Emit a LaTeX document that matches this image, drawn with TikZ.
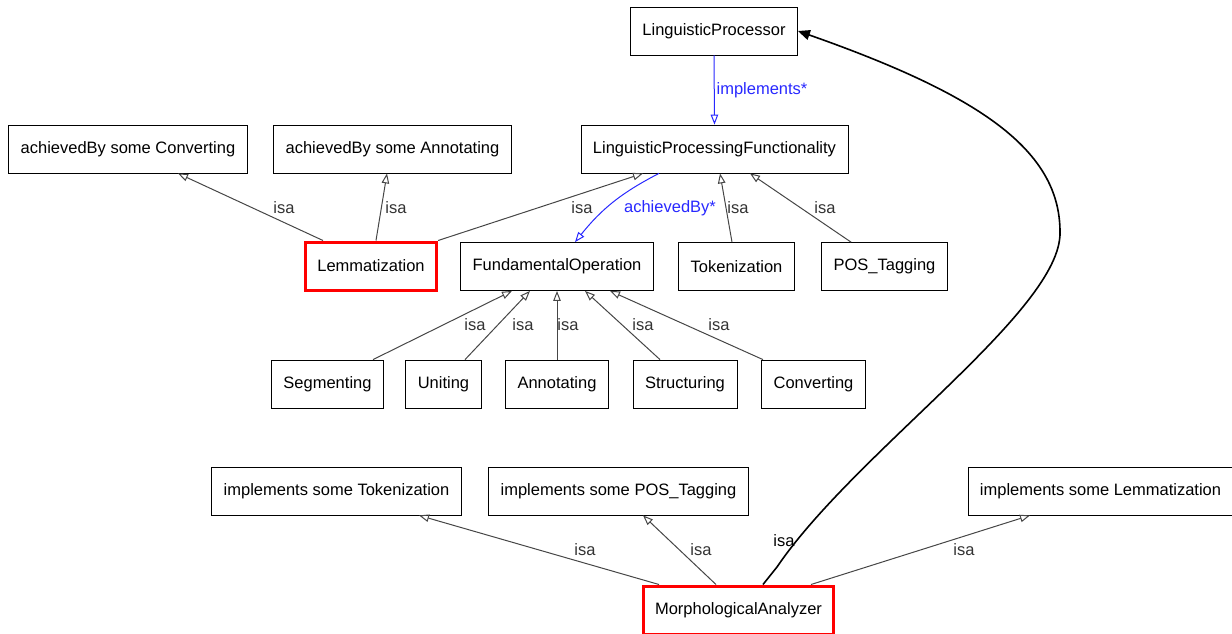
\documentclass[tikz,border=0pt]{standalone}
\usepackage{fontspec}
\setmainfont{Liberation Sans}
\usetikzlibrary{arrows.meta}
\definecolor{isagray}{RGB}{70,70,70}
\definecolor{relblue}{RGB}{40,40,255}
\begin{document}
\begin{tikzpicture}[x=1pt, y=-1pt,
  every node/.style={font=\fontsize{16.5}{18}\selectfont},
  cls/.style={draw, line width=0.8pt, minimum height=48pt, inner xsep=12pt},
  hit/.style={cls, draw=red, line width=3pt},
  isa/.style={draw=isagray, line width=1pt, -{Triangle[open, length=10pt, width=7.5pt]}},
  rel/.style={draw=relblue, line width=1pt, -{Triangle[open, length=10pt, width=7.5pt]}},
  lbl/.style={text=black!80, inner sep=1pt},
  rlbl/.style={text=relblue, inner sep=1pt}]
\useasboundingbox (0,0) rectangle (1232,633);

% classes
\node[cls] (LP) at (714, 31) {LinguisticProcessor};
\node[cls] (ConvSome) at (128, 149) {achievedBy some Converting};
\node[cls] (AnnSome) at (392.5, 149) {achievedBy some Annotating};
\node[cls] (LPF) at (714.5, 149) {LinguisticProcessingFunctionality};
\node[hit] (Lem) at (371, 266) {Lemmatization};
\node[cls] (FO) at (557, 266.5) {FundamentalOperation};
\node[cls] (Tok) at (736.5, 266.5) {Tokenization};
\node[cls] (POS) at (884.5, 266.5) {POS\_Tagging};
\node[cls] (Seg) at (327.5, 384) {Segmenting};
\node[cls] (Uni) at (443.5, 384) {Uniting};
\node[cls] (Ann) at (557, 384) {Annotating};
\node[cls] (Str) at (685, 384) {Structuring};
\node[cls] (Cnv) at (813.5, 384) {Converting};
\node[cls] (ImpTok) at (336.5, 491) {implements some Tokenization};
\node[cls] (ImpPOS) at (618.5, 491) {implements some POS\_Tagging};
\node[cls] (ImpLem) at (1100.5, 491) {implements some Lemmatization};
\node[hit] (MA) at (738.5, 610) {MorphologicalAnalyzer};

% isa links
\draw[isa] ([xshift=-48]Lem.north) to ([xshift=50]ConvSome.south);
\draw[isa] ([xshift=5]Lem.north) to ([xshift=-5.5]AnnSome.south);
\draw[isa] (Lem.north east) to ([xshift=-71.5]LPF.south);
\draw[isa] ([xshift=-4.5]Tok.north) to ([xshift=5.5]LPF.south);
\draw[isa] ([xshift=-33.5]POS.north) to ([xshift=35.5]LPF.south);
\draw[isa] ([xshift=45.5]Seg.north) to ([xshift=-45]FO.south);
\draw[isa] ([xshift=21.5]Uni.north) to ([xshift=-27]FO.south);
\draw[isa] (Ann.north) to (FO.south);
\draw[isa] ([xshift=-25]Str.north) to ([xshift=28]FO.south);
\draw[isa] ([xshift=-50.5]Cnv.north) to ([xshift=53]FO.south);
\draw[isa] ([xshift=-79.5]MA.north) to ([xshift=82.5]ImpTok.south);
\draw[isa] ([xshift=-22.5]MA.north) to ([xshift=24.5]ImpPOS.south);
\draw[isa] ([xshift=72.5]MA.north) to ([xshift=-70.5]ImpLem.south);

% object properties
\draw[rel] (LP.south) to (LPF.north);
\draw[rel] ([xshift=-55.5]LPF.south) to[bend right=12] ([xshift=18]FO.north);

% MorphologicalAnalyzer isa LinguisticProcessor
\coordinate (Bend) at (1060, 232);
\draw[line width=1.6pt, -{Triangle[length=12pt, width=10pt]}]
  ([xshift=24.5]MA.north) -- (777, 567)
  .. controls (855, 452) and (1062, 310) .. (Bend)
  .. controls (1060, 150) and (980, 95) .. (LP.east);

% labels
\node[lbl] at (284, 208) {isa};
\node[lbl] at (396, 208) {isa};
\node[lbl] at (582, 208) {isa};
\node[lbl] at (738, 208) {isa};
\node[lbl] at (825, 208) {isa};
\node[lbl] at (475, 325) {isa};
\node[lbl] at (523, 325) {isa};
\node[lbl] at (568, 325) {isa};
\node[lbl] at (643, 325) {isa};
\node[lbl] at (719, 325) {isa};
\node[lbl] at (585, 550) {isa};
\node[lbl] at (701, 550) {isa};
\node[lbl] at (964, 550) {isa};
\node[inner sep=1pt] at (784, 541) {isa};
\node[rlbl] at (762, 90) {implements*};
\node[rlbl] at (670, 208) {achievedBy*};
\end{tikzpicture}
\end{document}
